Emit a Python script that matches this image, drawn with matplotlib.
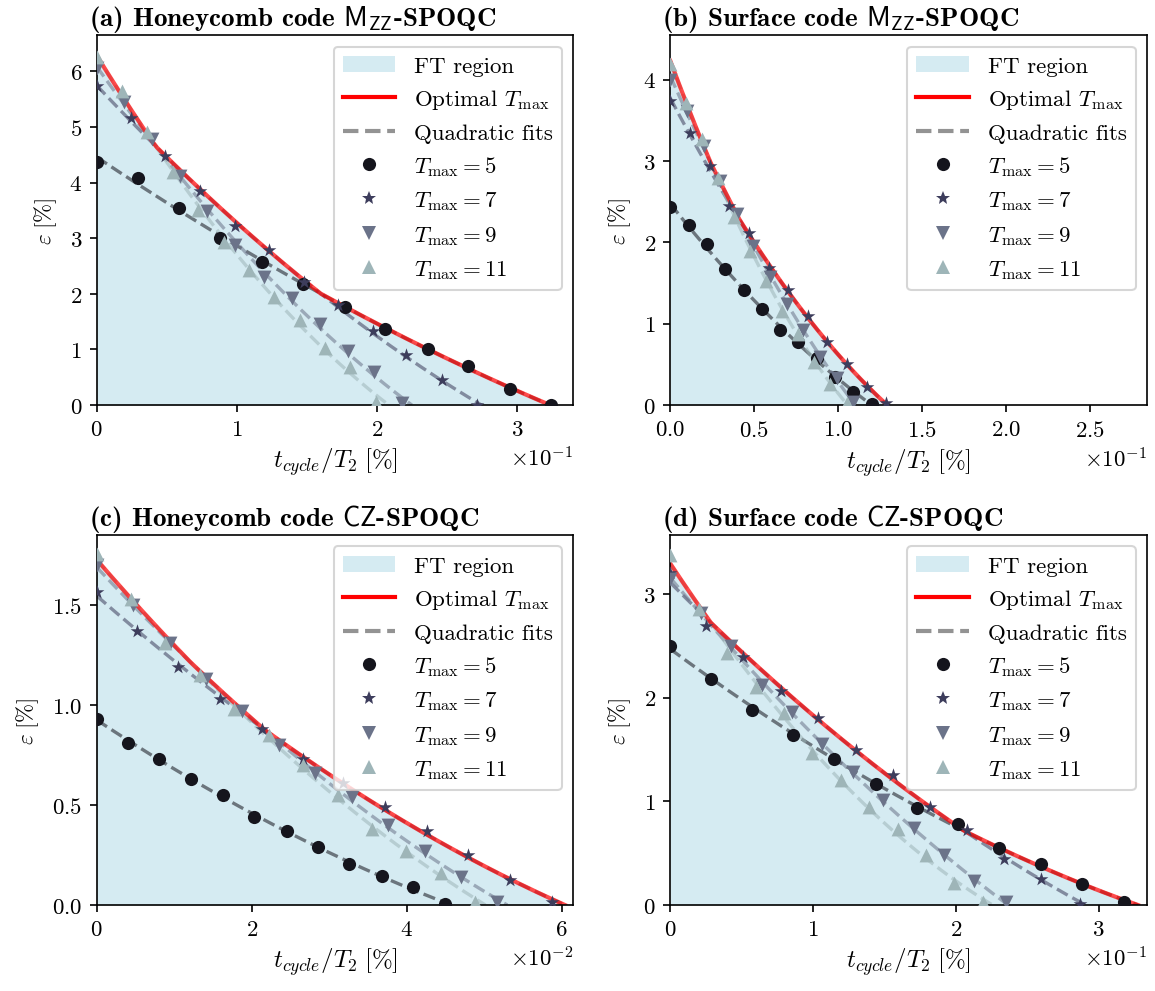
import numpy as np
import matplotlib
matplotlib.use("Agg")
from matplotlib import pyplot as plt
from matplotlib.lines import Line2D
from matplotlib.patches import Patch
from matplotlib.ticker import MultipleLocator

plt.rcParams["font.family"] = "serif"
plt.rcParams["font.serif"] = ["cmr10"]
plt.rcParams["mathtext.fontset"] = "cm"
plt.rcParams["axes.formatter.use_mathtext"] = True
plt.rcParams["axes.unicode_minus"] = False

# wartosci (x w jednostkach mnoznika osi)
t_max = [5, 7, 9, 11]

# (a) Honeycomb code M_ZZ, x * 1e-1
a_x5 = [0, 0.295, 0.59, 0.88, 1.18, 1.47, 1.77, 2.06, 2.36, 2.65, 2.95, 3.24]
a_y5 = [4.37, 4.08, 3.54, 3.00, 2.58, 2.17, 1.77, 1.37, 1.00, 0.70, 0.29, 0.00]
a_x7 = [0, 0.246, 0.49, 0.74, 0.985, 1.23, 1.48, 1.72, 1.97, 2.21, 2.46, 2.71]
a_y7 = [5.74, 5.16, 4.48, 3.84, 3.21, 2.79, 2.22, 1.80, 1.34, 0.90, 0.45, 0.00]
a_x9 = [0, 0.198, 0.396, 0.594, 0.79, 0.99, 1.19, 1.39, 1.59, 1.79, 1.98, 2.18]
a_y9 = [6.05, 5.45, 4.78, 4.12, 3.48, 2.88, 2.31, 1.92, 1.46, 0.98, 0.59, 0.04]
a_x11 = [0, 0.181, 0.362, 0.543, 0.724, 0.905, 1.086, 1.267, 1.448, 1.629, 1.81, 1.99]
a_y11 = [6.25, 5.65, 4.90, 4.19, 3.50, 2.93, 2.42, 1.94, 1.53, 1.02, 0.68, 0.05]

# (b) Surface code M_ZZ, x * 1e-1
b_x5 = [0, 0.109, 0.218, 0.327, 0.436, 0.545, 0.654, 0.763, 0.872, 0.981, 1.09, 1.2]
b_y5 = [2.44, 2.21, 1.98, 1.67, 1.41, 1.18, 0.92, 0.77, 0.58, 0.34, 0.16, 0.01]
b_x7 = [0, 0.117, 0.234, 0.351, 0.468, 0.585, 0.702, 0.819, 0.936, 1.053, 1.17, 1.287]
b_y7 = [3.74, 3.35, 2.94, 2.45, 2.12, 1.68, 1.41, 1.09, 0.77, 0.51, 0.22, 0.02]
b_x9 = [0, 0.099, 0.198, 0.297, 0.396, 0.495, 0.594, 0.693, 0.792, 0.891, 0.99, 1.09]
b_y9 = [4.00, 3.62, 3.18, 2.76, 2.35, 1.96, 1.58, 1.24, 0.92, 0.59, 0.33, 0.04]
b_x11 = [0, 0.095, 0.19, 0.286, 0.381, 0.476, 0.572, 0.667, 0.762, 0.857, 0.953, 1.05]
b_y11 = [4.20, 3.72, 3.27, 2.79, 2.31, 1.89, 1.53, 1.16, 0.88, 0.53, 0.26, 0.03]

# (c) Honeycomb code CZ, x * 1e-2
c_x5 = [0, 0.41, 0.81, 1.22, 1.63, 2.03, 2.45, 2.85, 3.26, 3.68, 4.08, 4.49]
c_y5 = [0.93, 0.81, 0.73, 0.63, 0.55, 0.44, 0.37, 0.29, 0.205, 0.147, 0.088, 0.005]
c_x7 = [0, 0.52, 1.05, 1.59, 2.13, 2.66, 3.18, 3.72, 4.26, 4.79, 5.33, 5.87]
c_y7 = [1.567, 1.37, 1.19, 1.03, 0.88, 0.73, 0.61, 0.49, 0.37, 0.25, 0.127, 0.013]
c_x9 = [0, 0.47, 0.94, 1.41, 1.88, 2.35, 2.82, 3.29, 3.76, 4.23, 4.70, 5.17]
c_y9 = [1.70, 1.50, 1.31, 1.13, 0.97, 0.80, 0.66, 0.54, 0.40, 0.27, 0.14, 0.013]
c_x11 = [0, 0.444, 0.888, 1.332, 1.776, 2.22, 2.664, 3.108, 3.552, 3.996, 4.44, 4.884]
c_y11 = [1.755, 1.53, 1.31, 1.15, 0.98, 0.85, 0.70, 0.55, 0.38, 0.27, 0.16, 0.013]

# (d) Surface code CZ, x * 1e-1
d_x5 = [0, 0.285, 0.571, 0.858, 1.149, 1.44, 1.725, 2.016, 2.30, 2.594, 2.886, 3.18]
d_y5 = [2.50, 2.18, 1.88, 1.64, 1.41, 1.17, 0.94, 0.78, 0.55, 0.396, 0.203, 0.026]
d_x7 = [0, 0.252, 0.51, 0.776, 1.037, 1.30, 1.56, 1.82, 2.08, 2.34, 2.60, 2.87]
d_y7 = [3.20, 2.69, 2.39, 2.06, 1.80, 1.50, 1.25, 0.95, 0.72, 0.44, 0.25, 0.01]
d_x9 = [0, 0.213, 0.426, 0.639, 0.852, 1.065, 1.278, 1.491, 1.704, 1.917, 2.13, 2.35]
d_y9 = [3.15, 2.82, 2.50, 2.12, 1.86, 1.55, 1.28, 1.01, 0.74, 0.48, 0.23, 0.03]
d_x11 = [0, 0.199, 0.398, 0.597, 0.796, 0.995, 1.194, 1.393, 1.592, 1.791, 1.99, 2.19]
d_y11 = [3.375, 2.86, 2.43, 2.10, 1.85, 1.47, 1.21, 0.95, 0.73, 0.48, 0.21, 0.03]

colors = ["#15151d", "#3d3d5c", "#6b7389", "#9eb5b8"]
markers = ["o", "*", "v", "^"]
sizes = [40, 48, 44, 44]

# tytul, skala osi x, serie, xmax (w jednostkach skali), ymax, krok x, krok y
panels = [
    (r"(a) Honeycomb code $\mathsf{M}_{\mathsf{ZZ}}$-SPOQC", 1e-1,
     [(a_x5, a_y5), (a_x7, a_y7), (a_x9, a_y9), (a_x11, a_y11)],
     3.40, 6.65, 1, 1),
    (r"(b) Surface code $\mathsf{M}_{\mathsf{ZZ}}$-SPOQC", 1e-1,
     [(b_x5, b_y5), (b_x7, b_y7), (b_x9, b_y9), (b_x11, b_y11)],
     2.84, 4.55, 0.5, 1),
    (r"(c) Honeycomb code $\mathsf{CZ}$-SPOQC", 1e-2,
     [(c_x5, c_y5), (c_x7, c_y7), (c_x9, c_y9), (c_x11, c_y11)],
     6.15, 1.85, 2, 0.5),
    (r"(d) Surface code $\mathsf{CZ}$-SPOQC", 1e-1,
     [(d_x5, d_y5), (d_x7, d_y7), (d_x9, d_y9), (d_x11, d_y11)],
     3.34, 3.57, 1, 1),
]


def fit_root(p, xmax):
    r = np.roots(p)
    r = r[np.isreal(r)].real
    r = r[r > 0]
    if len(r) == 0:
        return xmax
    return r.min()


fig, axes = plt.subplots(2, 2, figsize=(7.7, 6.613), dpi=150)
plt.subplots_adjust(left=0.0837, right=0.9931, top=0.9637, bottom=0.0867,
                    wspace=0.2036, hspace=0.351)

for ax, (title, scale, series, xmax, ymax, xstep, ystep) in zip(axes.flat, panels):
    fits = []
    for (x, y) in series:
        x = np.array(x) * scale
        y = np.array(y)
        p = np.polyfit(x, y, 2)
        fits.append((p, fit_root(p, x.max())))

    # obwiednia = optymalne T_max
    x_end = max(r for _, r in fits)
    xe = np.linspace(0, x_end, 600)
    ye = np.zeros_like(xe)
    for p, r in fits:
        ye = np.maximum(ye, np.where(xe <= r, np.polyval(p, xe), 0))
    ye = np.clip(ye, 0, None)

    ax.fill_between(xe, 0, ye, color="lightblue", alpha=0.5, lw=0, zorder=0)
    for (p, r), c in zip(fits, colors):
        xx = np.linspace(0, r, 200)
        ax.plot(xx, np.polyval(p, xx), "--", color=c, alpha=0.55, lw=1.6, zorder=1)
    ax.plot(xe, ye, color="red", lw=2.0, alpha=0.7, zorder=2)
    for (x, y), c, m, s in zip(series, colors, markers, sizes):
        ax.scatter(np.array(x) * scale, y, color=c, marker=m, s=s, lw=0, zorder=3)

    ax.set_xlim(0, xmax * scale)
    ax.set_ylim(0, ymax)
    ax.xaxis.set_major_locator(MultipleLocator(xstep * scale))
    ax.yaxis.set_major_locator(MultipleLocator(ystep))
    ax.ticklabel_format(axis="x", style="sci", scilimits=(0, 0))
    ax.tick_params(labelsize=11)
    ax.xaxis.get_offset_text().set_fontsize(11)
    ax.set_xlabel(r"$t_{cycle}/T_2\;[\%]$", fontsize=12, labelpad=3)
    ax.set_ylabel(r"$\varepsilon\;[\%]$", fontsize=11, labelpad=5)
    ax.set_title(title, fontfamily="cmb10", fontsize=13, loc="left", x=-0.017, pad=5)

    handles = [Patch(facecolor="lightblue", alpha=0.5, label="FT region"),
               Line2D([], [], color="red", lw=2, label=r"Optimal $T_{\max}$"),
               Line2D([], [], color="gray", ls="--", lw=2, alpha=0.85, label="Quadratic fits")]
    for c, m, s, t in zip(colors, markers, sizes, t_max):
        handles.append(Line2D([], [], ls="", marker=m, color=c, markersize=np.sqrt(s),
                              markeredgewidth=0, label=rf"$T_{{\max}} = {t}$"))
    ax.legend(handles=handles, loc="upper right", fontsize=11, handlelength=2.3)

plt.savefig("out.png", dpi=150)
plt.close()
